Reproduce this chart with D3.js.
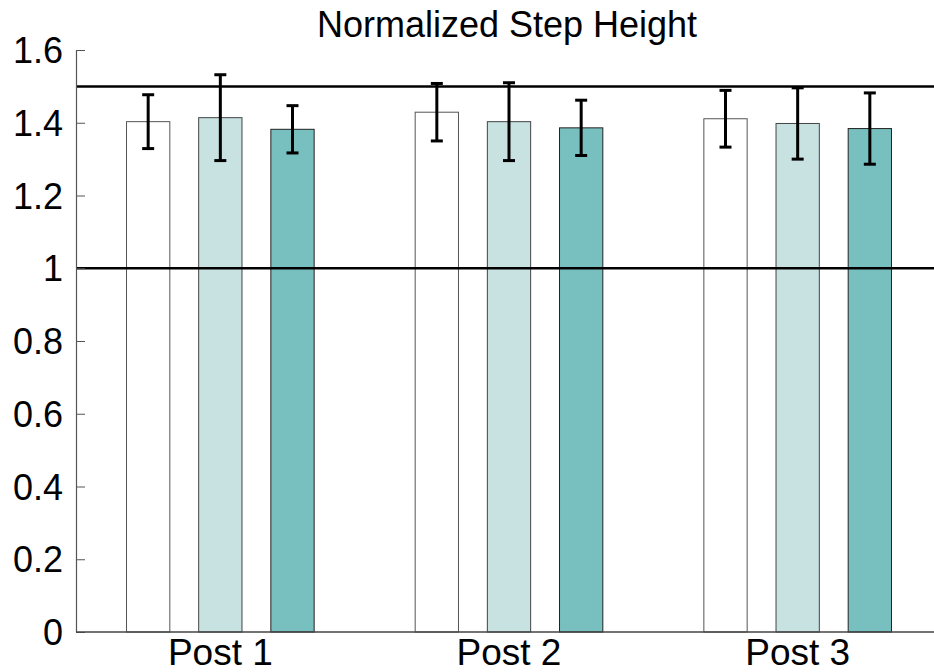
<!DOCTYPE html>
<html>
<head>
<meta charset="utf-8">
<script src="https://cdn.jsdelivr.net/npm/d3@7"></script>
<style>
  html, body { margin: 0; padding: 0; background: #fff; }
  svg { display: block; }
  text { font-family: "Liberation Sans", Arial, sans-serif; fill: #000; }
</style>
</head>
<body>
<svg id="chart" width="934" height="672"></svg>
<script>
// Step height, normalized, for three posts and three conditions
const categories = ["Post 1", "Post 2", "Post 3"];
const seriesNames = ["A", "B", "C"];
const meanA = [1.403, 1.429, 1.411];
const meanB = [1.414, 1.403, 1.398];
const meanC = [1.382, 1.386, 1.384];
const errA = [0.074, 0.079, 0.078];
const errB = [0.118, 0.107, 0.098];
const errC = [0.065, 0.076, 0.098];
const refLines = [1, 1.5];
const yTicks = [0, 0.2, 0.4, 0.6, 0.8, 1, 1.2, 1.4, 1.6];
const fills = ["#ffffff", "#c8e2e2", "#78bfbf"];
const strokes = ["#555555", "#444444", "#222222"];

const means = [meanA, meanB, meanC];
const errs = [errA, errB, errC];

const svg = d3.select("#chart");
const plotLeft = 76, plotTop = 50, plotBottom = 632;
const xRight = 942;

// numeric x axis, categories at 1..3, limits 0.5..3.5
const x = d3.scaleLinear().domain([0.5, 3.5]).range([plotLeft, xRight]);
const y = d3.scaleLinear().domain([0, 1.6]).range([plotBottom, plotTop]);
const unit = x(2) - x(1);
const barW = unit * 0.15;
const offsets = [-0.25, 0, 0.25];

const rows = [];
categories.forEach((c, i) => {
  seriesNames.forEach((s, j) => {
    rows.push({ i, j, cx: x(i + 1) + offsets[j] * unit, v: means[j][i], e: errs[j][i] });
  });
});

// bars
svg.append("g").selectAll("rect").data(rows).join("rect")
  .attr("x", d => d.cx - barW / 2)
  .attr("y", d => y(d.v))
  .attr("width", barW)
  .attr("height", d => y(0) - y(d.v))
  .attr("fill", d => fills[d.j])
  .attr("stroke", d => strokes[d.j])
  .attr("stroke-width", 1);

// reference lines
svg.append("g").selectAll("line").data(refLines).join("line")
  .attr("x1", plotLeft).attr("x2", 934)
  .attr("y1", d => y(d)).attr("y2", d => y(d))
  .attr("stroke", "#000").attr("stroke-width", 2.5);

// error bars
const eb = svg.append("g").attr("stroke", "#000").attr("stroke-width", 3);
const capW = 12;
rows.forEach(d => {
  eb.append("line").attr("x1", d.cx).attr("x2", d.cx)
    .attr("y1", y(d.v + d.e)).attr("y2", y(d.v - d.e));
  eb.append("line").attr("x1", d.cx - capW / 2).attr("x2", d.cx + capW / 2)
    .attr("y1", y(d.v + d.e)).attr("y2", y(d.v + d.e));
  eb.append("line").attr("x1", d.cx - capW / 2).attr("x2", d.cx + capW / 2)
    .attr("y1", y(d.v - d.e)).attr("y2", y(d.v - d.e));
});

// y axis with inward ticks
const yAxis = d3.axisLeft(y).tickValues(yTicks).tickSizeInner(-9).tickSizeOuter(0)
  .tickFormat(d => String(+d.toFixed(1)));
const gy = svg.append("g").attr("transform", `translate(${plotLeft},0)`).call(yAxis);
gy.select(".domain").attr("stroke", "#555").attr("stroke-width", 1.2);
gy.selectAll(".tick line").attr("stroke", "#555").attr("stroke-width", 1);
gy.selectAll(".tick text")
  .attr("x", -13)
  .attr("dy", "0.35em")
  .style("font-size", "36px")
  .style("font-family", "'Liberation Sans', Arial, sans-serif")
  .attr("fill", "#000");

// x axis
const gx = svg.append("g").attr("transform", `translate(0,${plotBottom})`);
gx.append("line").attr("x1", plotLeft).attr("x2", 934).attr("y1", 0).attr("y2", 0)
  .attr("stroke", "#444").attr("stroke-width", 1.5);
gx.selectAll("text").data(categories).join("text")
  .attr("x", (d, i) => x(i + 1))
  .attr("y", 33)
  .attr("text-anchor", "middle")
  .style("font-size", "37px")
  .text(d => d);

// title
svg.append("text")
  .attr("x", 507).attr("y", 37)
  .attr("text-anchor", "middle")
  .style("font-size", "36px")
  .text("Normalized Step Height");
</script>
</body>
</html>
